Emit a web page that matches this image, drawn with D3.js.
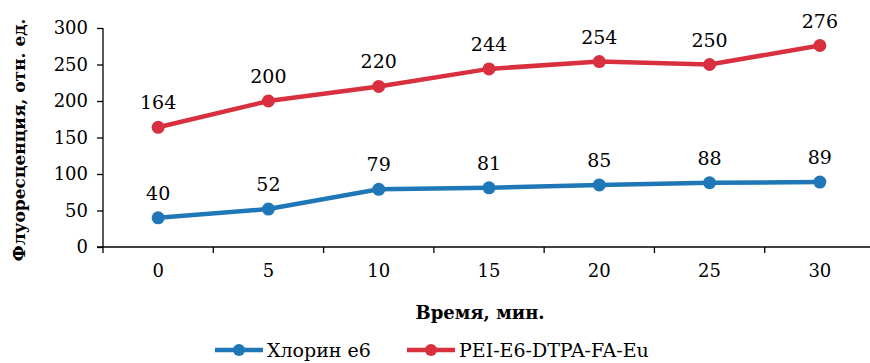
<!DOCTYPE html>
<html><head><meta charset="utf-8">
<script src="https://cdn.jsdelivr.net/npm/d3@7"></script>
<style>body{margin:0;background:#fff}svg{display:block}svg text{font-family:"DejaVu Serif",serif !important}</style>
</head><body><svg id="c" width="870" height="363"></svg>
<script>
const categories = ["0","5","10","15","20","25","30"];
const chlorin = [40,52,79,81,85,88,89];
const pei = [164,200,220,244,254,250,276];
const peiErr = [3,3,3,3,4,4,5];
const yTicks = [0,50,100,150,200,250,300];
const seriesNames = ["Хлорин е6","PEI-E6-DTPA-FA-Eu"];
const colors = ["#1f77b8","#d9303f"];

(function(){
const svg = d3.select("#c");
const pLeft = 103, pRight = 875, pTop = 28, pBottom = 247;
const x = d3.scaleBand().domain(categories).range([pLeft, pRight]);
const y = d3.scaleLinear().domain([0,300]).range([pBottom, pTop]);

const ya = svg.append("g").attr("transform",`translate(${pLeft},0)`)
  .call(d3.axisLeft(y).tickValues(yTicks).tickSize(6).tickPadding(9));
ya.select(".domain").attr("d",`M0,${pTop}V${pBottom}`);
const xa = svg.append("g").attr("transform",`translate(0,${pBottom})`)
  .call(d3.axisBottom(x).tickSize(0).tickPadding(17));
xa.select(".domain").attr("d",`M${pLeft-6},0H${pRight}`);
xa.selectAll(".bt").data(d3.range(categories.length+1)).enter().append("line")
  .attr("x1",i=>pLeft+i*x.bandwidth()).attr("x2",i=>pLeft+i*x.bandwidth())
  .attr("y1",0).attr("y2",6);
svg.selectAll(".domain, .tick line, line").attr("stroke","#000").attr("stroke-width",1.3);
svg.selectAll(".tick text").attr("font-size",18).attr("fill","#000");

const cx = d => x(d) + x.bandwidth()/2;
const line = d3.line().x((d,i)=>cx(categories[i])).y(d=>y(d));

[chlorin, pei].forEach((data, s) => {
  const g = svg.append("g");
  g.append("path").datum(data).attr("d", line).attr("fill","none")
    .attr("stroke", colors[s]).attr("stroke-width", 4.5);
  if (s === 1) {
    g.selectAll(".err").data(data).enter().append("g").each(function(d,i){
      const gg = d3.select(this), xx = cx(categories[i]);
      gg.append("line").attr("x1",xx).attr("x2",xx).attr("y1",y(d+peiErr[i])).attr("y2",y(d-peiErr[i])).attr("stroke","#777").attr("stroke-width",1);
      [d+peiErr[i], d-peiErr[i]].forEach(v=>gg.append("line").attr("x1",xx-4).attr("x2",xx+4).attr("y1",y(v)).attr("y2",y(v)).attr("stroke","#777").attr("stroke-width",1));
    });
  }
  g.selectAll("circle").data(data).enter().append("circle")
    .attr("cx",(d,i)=>cx(categories[i])).attr("cy",d=>y(d)).attr("r",6.5)
    .attr("fill", colors[s]);
  g.selectAll("text").data(data).enter().append("text")
    .attr("x",(d,i)=>cx(categories[i])).attr("y",d=>y(d)-18)
    .attr("text-anchor","middle").attr("font-size",19)
    .text(d=>d);
});

svg.append("text").attr("x",480).attr("y",319).attr("text-anchor","middle")
  .attr("font-weight","bold").attr("font-size",18)
  .text("Время, мин.");
svg.append("text").attr("transform","translate(25,140) rotate(-90)").attr("text-anchor","middle")
  .attr("font-weight","bold").attr("font-size",17)
  .text("Флуоресценция, отн. ед.");

const legX = [215, 407];
seriesNames.forEach((n,i)=>{
  const g = svg.append("g");
  g.append("line").attr("x1",legX[i]).attr("x2",legX[i]+48).attr("y1",350).attr("y2",350)
    .attr("stroke",colors[i]).attr("stroke-width",4.5);
  g.append("circle").attr("cx",legX[i]+24).attr("cy",350).attr("r",6).attr("fill",colors[i]);
  g.append("text").attr("x",legX[i]+52).attr("y",357).attr("font-size",19).text(n);
});
})();
</script></body></html>
